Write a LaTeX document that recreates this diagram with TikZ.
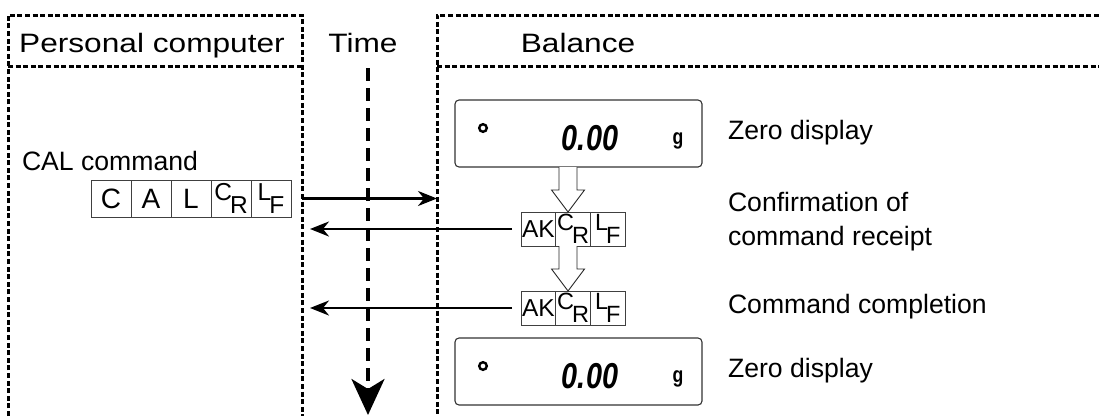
\documentclass[tikz,border=0pt]{standalone}
\usepackage{fontspec}
\setmainfont{Liberation Sans}
\newfontfamily\headfont[FakeStretch=1.19]{Liberation Sans}
\newfontfamily\lcdfont[FakeStretch=0.8]{Liberation Sans}
\usetikzlibrary{arrows.meta, positioning}

% raised and lowered letter pair (CR, LF)
\newcommand{\subpair}[2]{\raisebox{5.5pt}{#1}\kern-2pt\raisebox{-7pt}{#2}}
% hollow block arrow pointing down from #1 to #2
\newcommand{\blockdown}[2]{%
  \draw[blockarr] ([xshift=-9pt]#1) -- ([xshift=-9pt,yshift=22pt]#2)
    -- ([xshift=-16.5pt,yshift=22pt]#2) -- (#2)
    -- ([xshift=16.5pt,yshift=22pt]#2) -- ([xshift=9pt,yshift=22pt]#2)
    -- ([xshift=9pt]#1);}

\begin{document}
\begin{tikzpicture}[
    x=1pt, y=-1pt,
    every node/.style={inner sep=0pt, outer sep=0pt},
    dotframe/.style={line width=3pt, dash pattern=on 5pt off 2.6pt},
    timeline/.style={line width=3.6pt, dash pattern=on 13pt off 7pt},
    msg/.style={line width=2.2pt, -{Stealth[length=19pt, width=15pt, inset=6pt]}},
    note/.style={font=\fontsize{26.6}{34}\selectfont, align=left, anchor=west},
    header/.style={font=\headfont\fontsize{26.6}{30}\selectfont, anchor=base},
    cell/.style={draw=black!75, line width=0.9pt, minimum width=40pt, minimum height=37pt, font=\fontsize{28}{30}\selectfont},
    akcell/.style={draw=black!75, line width=0.9pt, minimum width=34.7pt, minimum height=34pt, font=\fontsize{24.5}{25}\selectfont},
    panel/.style={draw=black!80, line width=1.1pt, rounded corners=4pt, minimum width=247pt, minimum height=67pt},
    blockarr/.style={draw=black!85, line width=0.9pt, fill=white},
  ]
  \useasboundingbox (0,0) rectangle (1099,416);

  % column frames
  \draw[dotframe] (8,416) -- (8,15) -- (302,15) -- (302,416);
  \draw[dotframe] (8,66) -- (302,66);
  \draw[dotframe] (1099,15) -- (437,15) -- (437,416);
  \draw[dotframe] (437,66) -- (1099,66);

  \node[header] (pc_head) at (152,52) {Personal computer};
  \node[header] (time_head) at (363,52) {Time};
  \node[header] (bal_head) at (578,52) {Balance};

  % time axis
  \coordinate (time_top) at (368,68);
  \coordinate (time_end) at (368,415);
  \draw[timeline, -{Stealth[length=36pt, width=33pt, inset=10pt]}] (time_top) -- (time_end);

  % column edges for the messages
  \coordinate (pc_edge) at (302,0);
  \coordinate (pc_in) at (310,0);
  \coordinate (bal_edge) at (437,0);
  \coordinate (arr_x) at (568,0);

  % CAL command
  \node[note] (cal_label) at (22,161) {CAL command};
  \node[cell, anchor=west] (cal_c) at (91,198.5) {C};
  \node[cell, right=0pt of cal_c] (cal_a) {A};
  \node[cell, right=0pt of cal_a] (cal_l) {L};
  \node[cell, right=0pt of cal_l, font=\fontsize{24.5}{24}\selectfont] (cal_cr) {\subpair{C}{R}};
  \node[cell, right=0pt of cal_cr, font=\fontsize{24.5}{24}\selectfont] (cal_lf) {\subpair{L}{F}};

  % replies AK CR LF
  \foreach \r/\yy in {1/229, 2/308} {
    \node[akcell, anchor=west] (ak\r_a) at (521,\yy) {AK};
    \node[akcell, right=0pt of ak\r_a, font=\fontsize{23.5}{23}\selectfont] (ak\r_cr) {\subpair{C}{R}};
    \node[akcell, right=0pt of ak\r_cr, font=\fontsize{23.5}{23}\selectfont] (ak\r_lf) {\subpair{L}{F}};
  }

  % zero displays
  \foreach \d/\yy in {zero1/133.5, zero2/371.5} {
    \node[panel] (\d) at (578.5,\yy) {};
    \draw[line width=2.4pt] ([xshift=28pt,yshift=-28pt]\d.north west) circle (3.8pt);
    \node[font=\lcdfont\itshape\bfseries\fontsize{36}{36}\selectfont, anchor=base]
      at ([xshift=135pt,yshift=-50pt]\d.north west) {0.00};
    \node[font=\lcdfont\bfseries\fontsize{22}{22}\selectfont, anchor=base]
      at ([xshift=223pt,yshift=-44pt]\d.north west) {g};
  }

  % block arrows
  \coordinate (d1_bot) at (zero1.south -| arr_x);
  \coordinate (a1_top) at (ak1_cr.north -| arr_x);
  \coordinate (a1_bot) at (ak1_cr.south -| arr_x);
  \coordinate (a2_top) at (ak2_cr.north -| arr_x);
  \blockdown{d1_bot}{a1_top}
  \blockdown{a1_bot}{a2_top}

  % messages
  \draw[msg] (cal_lf.east -| pc_edge) -- (cal_lf.east -| bal_edge);
  \draw[msg] ([xshift=-9pt]ak1_a.west) -- (ak1_a.west -| pc_in);
  \draw[msg] ([xshift=-9pt]ak2_a.west) -- (ak2_a.west -| pc_in);

  % right hand notes
  \node[note] (zero1_note) at (728,133) {Zero display};
  \node[note] (conf_note) at (728,222) {Confirmation of\\command receipt};
  \node[note] (done_note) at (728,307) {Command completion};
  \node[note] (zero2_note) at (728,371) {Zero display};
\end{tikzpicture}
\end{document}
